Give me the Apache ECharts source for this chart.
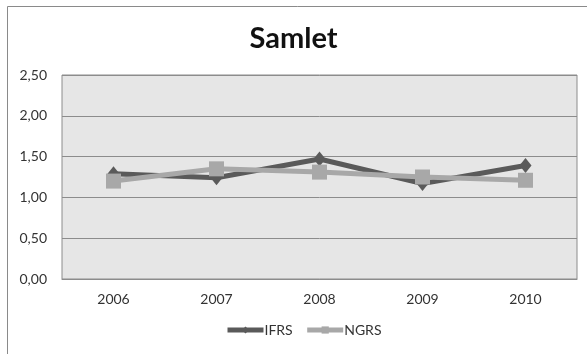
<!DOCTYPE html>
<html>
<head>
<meta charset="utf-8">
<script src="https://cdn.jsdelivr.net/npm/echarts@6/dist/echarts.min.js"></script>
<style>
  html, body { margin: 0; padding: 0; background: #ffffff; }
  #chart { width: 587px; height: 354px; }
</style>
</head>
<body>
<div id="chart"></div>
<script>
// Years on the category axis
const years = ['2006', '2007', '2008', '2009', '2010'];
// Ratio per year, IFRS vs NGRS
const ifrsValues = [1.29, 1.24, 1.47, 1.17, 1.39];
const ngrsValues = [1.20, 1.35, 1.31, 1.25, 1.21];
// Value axis range
const yMin = 0;
const yMax = 2.5;
const yStep = 0.5;

const fontFamily = 'Lato, "Open Sans", sans-serif';
const fmt = v => v.toFixed(2).replace('.', ',');

const chart = echarts.init(document.getElementById('chart'), null, { renderer: 'canvas' });
chart.setOption({
  backgroundColor: '#ffffff',
  animation: false,
  title: {
    text: 'Samlet',
    left: 'center',
    top: 19,
    textStyle: { fontFamily, fontSize: 29, fontWeight: 'bold', color: '#111111' }
  },
  graphic: [{
    type: 'rect',
    shape: { x: 7.5, y: 6.5, width: 620, height: 400 },
    style: { fill: 'none', stroke: '#8a8a8a', lineWidth: 1 },
    silent: true
  }],
  grid: {
    left: 62, right: 10, top: 75, bottom: 75,
    show: true,
    backgroundColor: '#e6e6e6',
    borderColor: '#8c8c8c',
    borderWidth: 1
  },
  legend: {
    bottom: 12,
    left: 220,
    itemWidth: 36,
    itemHeight: 9,
    itemGap: 12,
    lineStyle: { width: 5 },
    textStyle: { fontFamily, fontSize: 14, color: '#333333', padding: [0, 0, 0, -4] },
    data: ['IFRS', 'NGRS']
  },
  xAxis: {
    type: 'category',
    data: years,
    boundaryGap: true,
    axisLine: { show: true, lineStyle: { color: '#8c8c8c', width: 1 } },
    axisTick: { show: false },
    axisLabel: { fontFamily, fontSize: 14, color: '#333333', margin: 13 }
  },
  yAxis: {
    type: 'value',
    min: yMin,
    max: yMax,
    interval: yStep,
    axisLine: { show: false },
    axisTick: { show: false },
    splitLine: { show: true, lineStyle: { color: '#8c8c8c', width: 1 } },
    axisLabel: { fontFamily, fontSize: 14, color: '#333333', margin: 15, formatter: fmt }
  },
  series: [
    {
      name: 'IFRS',
      type: 'line',
      data: ifrsValues,
      symbol: 'diamond',
      symbolSize: [12, 15],
      lineStyle: { color: '#5a5a5a', width: 5 },
      itemStyle: { color: '#5a5a5a' },
      z: 2
    },
    {
      name: 'NGRS',
      type: 'line',
      data: ngrsValues,
      symbol: 'rect',
      symbolSize: 15,
      lineStyle: { color: '#a8a8a8', width: 5 },
      itemStyle: { color: '#a8a8a8' },
      z: 3
    }
  ]
});
</script>
</body>
</html>
